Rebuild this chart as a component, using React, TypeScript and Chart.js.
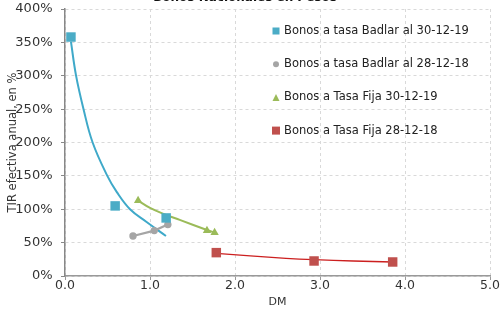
import React, { useEffect, useRef } from "react";
import { Chart, registerables } from "chart.js";

Chart.register(...registerables);

const chartTitle = "Bonos Nacionales en Pesos";
const xTitle = "DM";
const yTitle = "TIR efectiva anual, en %";

const seriesLabels = [
  "Bonos a tasa Badlar al 30-12-19",
  "Bonos a tasa Badlar al 28-12-18",
  "Bonos a Tasa Fija 30-12-19",
  "Bonos a Tasa Fija 28-12-18",
];

// Badlar 30-12-19 (DM, TIR %)
const badlar19X = [0.07, 0.59, 1.19];
const badlar19Y = [358, 105, 87];
// trend curve
const badlar19TrendX = [0.07, 0.129, 0.216, 0.325, 0.498, 0.608, 0.765, 0.96, 1.188];
const badlar19TrendY = [351, 301, 251, 200, 150, 126, 100, 81, 60];

// Badlar 28-12-18
const badlar18X = [0.8, 1.05, 1.21];
const badlar18Y = [60, 68, 77];

// Tasa Fija 30-12-19
const fija19X = [0.86, 1.67, 1.76];
const fija19Y = [113, 68, 65];
const fija19TrendX = [0.86, 1.0, 1.18, 1.35, 1.67, 1.76];
const fija19TrendY = [113, 102, 92, 84, 69, 65];

// Tasa Fija 28-12-18
const fija18X = [1.78, 2.93, 3.855];
const fija18Y = [35, 22.5, 21];
const fija18TrendX = [1.78, 2.18, 2.6, 2.93, 3.39, 3.855];
const fija18TrendY = [34, 30, 26.5, 24.5, 22.5, 21];

const xTicks = [0, 1, 2, 3, 4, 5];
const yTicks = [0, 50, 100, 150, 200, 250, 300, 350, 400];

const TEAL = "#4BACC6";
const GREY = "#A5A5A5";
const GREEN = "#9BBB59";
const RED = "#C0504D";

const FONT = "DejaVu Sans";

const pts = (xs: number[], ys: number[]) => xs.map((x, i) => ({ x, y: ys[i] }));

const legendPlugin = {
  id: "customLegend",
  afterDraw(chart: any) {
    const ctx = chart.ctx as CanvasRenderingContext2D;
    const items = chart.data.datasets.filter((d: any) => d.label);
    items.forEach((d: any, i: number) => {
      const x = 276;
      const y = 45 + i * 33.2;
      ctx.save();
      ctx.fillStyle = d.backgroundColor;
      const s = d.legendSize;
      if (d.pointStyle === "rect") {
        ctx.fillRect(x - s / 2, y - s / 2, s, s);
      } else if (d.pointStyle === "circle") {
        ctx.beginPath();
        ctx.arc(x, y, s / 2, 0, Math.PI * 2);
        ctx.fill();
      } else if (d.pointStyle === "triangle") {
        ctx.beginPath();
        ctx.moveTo(x, y - s / 2);
        ctx.lineTo(x + s / 2, y + s / 2);
        ctx.lineTo(x - s / 2, y + s / 2);
        ctx.closePath();
        ctx.fill();
      }
      ctx.fillStyle = "#222";
      ctx.font = `11.5px "${FONT}"`;
      ctx.textBaseline = "middle";
      ctx.textAlign = "left";
      ctx.fillText(d.label, 284, y);
      ctx.restore();
    });
  },
};

export default function App() {
  const ref = useRef<HTMLCanvasElement | null>(null);

  useEffect(() => {
    if (!ref.current) return;
    const chart = new Chart(ref.current, {
      type: "scatter",
      data: {
        datasets: [
          {
            label: seriesLabels[0],
            data: pts(badlar19X, badlar19Y),
            pointStyle: "rect",
            pointRadius: 6.7,
            backgroundColor: TEAL,
            borderColor: TEAL,
            borderWidth: 0,
            showLine: false,
            legendSize: 7,
          } as any,
          {
            label: seriesLabels[1],
            data: pts(badlar18X, badlar18Y),
            pointStyle: "circle",
            pointRadius: 3.7,
            backgroundColor: GREY,
            borderColor: GREY,
            pointBorderWidth: 0,
            borderWidth: 2.2,
            showLine: true,
            legendSize: 6,
          } as any,
          {
            label: seriesLabels[2],
            data: pts(fija19X, fija19Y),
            pointStyle: "triangle",
            pointRadius: 4.8,
            backgroundColor: GREEN,
            borderColor: GREEN,
            borderWidth: 0,
            showLine: false,
            legendSize: 7,
          } as any,
          {
            label: seriesLabels[3],
            data: pts(fija18X, fija18Y),
            pointStyle: "rect",
            pointRadius: 6.7,
            backgroundColor: RED,
            borderColor: RED,
            borderWidth: 0,
            showLine: false,
            legendSize: 8,
          } as any,
          {
            data: pts(badlar19TrendX, badlar19TrendY),
            showLine: true,
            pointRadius: 0,
            borderColor: "#3FA9C9",
            borderWidth: 2,
            tension: 0.4,
          } as any,
          {
            data: pts(fija19TrendX, fija19TrendY),
            showLine: true,
            pointRadius: 0,
            borderColor: GREEN,
            borderWidth: 2,
            tension: 0.4,
          } as any,
          {
            data: pts(fija18TrendX, fija18TrendY),
            showLine: true,
            pointRadius: 0,
            borderColor: "#CC1F1F",
            borderWidth: 1.3,
            tension: 0.4,
          } as any,
        ],
      },
      options: {
        animation: false,
        responsive: false,
        layout: { padding: { left: 0, right: 10, top: 0, bottom: 0 } },
        plugins: {
          legend: { display: false },
          tooltip: { enabled: false },
          title: {
            display: true,
            text: chartTitle,
            color: "#111",
            font: { family: FONT, size: 12, weight: "bold" },
            padding: { top: 4.2, bottom: 4.4 },
          },
        },
        scales: {
          x: {
            type: "linear",
            min: 0,
            max: 5,
            afterBuildTicks: (s: any) => {
              s.ticks = xTicks.map((v) => ({ value: v }));
            },
            afterFit: (s: any) => {
              s.height = 33;
            },
            ticks: {
              callback: (v: any) => Number(v).toFixed(1),
              color: "#333",
              font: { family: FONT, size: 12.5 },
              padding: -1.5,
              maxRotation: 0,
            },
            grid: { color: "#d9d9d9", tickLength: 4, tickColor: "#999" },
            border: { display: true, color: "#999", width: 1.5, dash: [3, 3] },
            title: {
              display: true,
              text: xTitle,
              color: "#333",
              font: { family: FONT, size: 11 },
              padding: { top: 0, bottom: 0.5 },
            },
          },
          y: {
            type: "linear",
            min: 0,
            max: 400,
            afterBuildTicks: (s: any) => {
              s.ticks = yTicks.map((v) => ({ value: v }));
            },
            afterFit: (s: any) => {
              s.width = 65;
            },
            ticks: {
              callback: (v: any) => `${v}%`,
              color: "#333",
              font: { family: FONT, size: 13 },
              padding: 8.5,
            },
            grid: { color: "#d9d9d9", tickLength: 4, tickColor: "#888" },
            border: { display: true, color: "#888", width: 1.5, dash: [3, 3] },
            title: {
              display: true,
              text: yTitle,
              color: "#333",
              font: { family: FONT, size: 11.5 },
              padding: { top: 6.2, bottom: 0 },
            },
          },
        },
      },
      plugins: [legendPlugin],
    });
    return () => chart.destroy();
  }, []);

  return (
    <div style={{ position: "absolute", left: 0, top: -14, width: 500, height: 323 }}>
      <canvas ref={ref} width={500} height={323} style={{ width: 500, height: 323 }} />
    </div>
  );
}
